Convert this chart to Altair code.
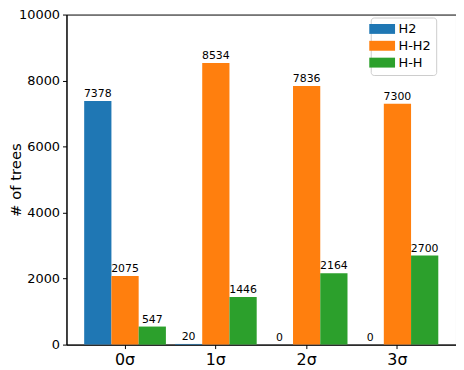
import altair as alt
import pandas as pd

categories = ["0σ", "1σ", "2σ", "3σ"]
series = ["H2", "H-H2", "H-H"]
h2 = [7378, 20, 0, 0]
hh2 = [2075, 8534, 7836, 7300]
hh = [547, 1446, 2164, 2700]
colors = ["#1f77b4", "#ff7f0e", "#2ca02c"]

rows = []
for i, c in enumerate(categories):
    for s, vals in zip(series, [h2, hh2, hh]):
        rows.append({"cat": c, "series": s, "value": vals[i]})
df = pd.DataFrame(rows)

FONT = "DejaVu Sans"

x = alt.X("cat:N", sort=categories, title=None,
          scale=alt.Scale(paddingInner=0.1, paddingOuter=0.195),
          axis=alt.Axis(labelAngle=0, labelFontSize=16, labelFont=FONT, labelColor="black",
                        domainColor="black", tickColor="black", tickSize=4, labelPadding=3))
xo = alt.XOffset("series:N", sort=series, scale=alt.Scale(paddingInner=0, paddingOuter=0))
y = alt.Y("value:Q", title="# of trees",
          scale=alt.Scale(domain=[0, 10000], nice=False),
          axis=alt.Axis(values=[0, 2000, 4000, 6000, 8000, 10000], format="d", grid=False,
                        labelFontSize=13, labelFont=FONT, labelColor="black", titleFont=FONT,
                        titleFontSize=15, titleFontWeight="normal", titleColor="black",
                        domainColor="black", tickColor="black", tickSize=4, labelPadding=3,
                        titleX=-43, titleBaseline="bottom", titleAngle=270))

bars = alt.Chart(df).mark_bar().encode(
    x=x, xOffset=xo, y=y,
    color=alt.Color("series:N", sort=series,
                    scale=alt.Scale(domain=series, range=colors),
                    legend=alt.Legend(title=None, orient="none", legendX=307, legendY=3,
                                      labelFont=FONT, labelFontSize=13, labelColor="black",
                                      symbolType="M-2.6,-1H2.6V1H-2.6Z", symbolSize=100,
                                      symbolStrokeWidth=0, rowPadding=3, padding=5,
                                      strokeColor="#cccccc", cornerRadius=3, fillColor="white",
                                      labelOffset=10))
)

text = alt.Chart(df).mark_text(baseline="bottom", dy=-2, fontSize=11, font=FONT, color="black").encode(
    x=x, xOffset=xo, y=y, text=alt.Text("value:Q", format="d")
)

chart = (bars + text).properties(
    width=393, height=333,
    autosize=alt.AutoSizeParams(type="none"),
    padding={"left": 59, "top": 5, "right": 0, "bottom": 24},
).configure_view(stroke="black", strokeWidth=1).configure_axis(domainWidth=1)

chart.save("out.html", embed_options={"renderer": "svg", "actions": False})
